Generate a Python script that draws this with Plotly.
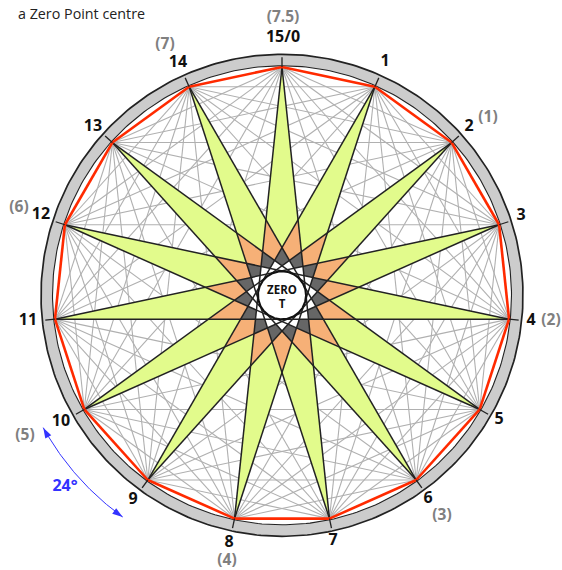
import numpy as np
import plotly.graph_objects as go

N = 15
vertex_numbers = list(range(N))
R = 228.3
ring_outer = 241.0
ring_inner = 229.5
tick_end = 238.0
centre_r = 24.0
kite_radii = {"yellow": [228.3, 77.2, 47.7], "orange": [77.2, 47.7, 35.7], "gray": [47.7, 35.7, 29.5]}
kite_colors = {"yellow": "#e2fb8c", "orange": "#f6b077", "gray": "#666666"}
chord_steps = [2, 3, 4, 5, 6]

title_text = "a Zero Point centre"
main_labels = ["15/0", "1", "2", "3", "4", "5", "6", "7", "8", "9", "10", "11", "12", "13", "14"]
main_x = [1, 103, 187, 239, 249, 217, 146, 51, -53, -149, -221, -254, -241, -189, -104]
main_y = [257, 233, 168, 79, -26, -125, -204, -246, -248, -205, -127, -26, 80, 168, 232]
half_labels = ["(7.5)", "(1)", "(2)", "(3)", "(4)", "(5)", "(6)", "(7)"]
half_x = [1, 206, 269, 160, -55, -257, -263, -117]
half_y = [277, 177, -26, -221, -266, -141, 87, 250]
arc_deg = [215.7, 241.0]
arc_r = 273.0
arc_label = "24°"
arc_label_xy = (-217, -192)


def pol(angle_deg, r):
    a = np.radians(angle_deg)
    return r * np.sin(a), r * np.cos(a)


def vert(i, r=R):
    return pol(i * 360 / N, r)


def circle(r):
    t = np.linspace(0, 360, 361)
    return pol(t, r)


fig = go.Figure()


def line(x, y, color, width, fill=None, fillcolor=None):
    fig.add_trace(go.Scatter(x=x, y=y, mode="lines", line=dict(color=color, width=width),
                             fill=fill, fillcolor=fillcolor, hoverinfo="skip", showlegend=False))


def chords(step):
    xs, ys = [], []
    for i in vertex_numbers:
        a, b = vert(i), vert(i + step)
        xs += [a[0], b[0], None]
        ys += [a[1], b[1], None]
    return xs, ys


# ring
x, y = circle(ring_outer)
line(x, y, "#222222", 1.7, "toself", "#cccccc")
x, y = circle(ring_inner)
line(x, y, "#222222", 1.1, "toself", "#ffffff")

# light chords
for s in chord_steps:
    x, y = chords(s)
    line(x, y, "#b0b0b0", 1.1)

# kites
for name, (r0, r1, r2) in kite_radii.items():
    xs, ys = [], []
    off = 0 if name != "orange" else 12
    for i in vertex_numbers:
        a = i * 24 + off
        pts = [pol(a, r0), pol(a + 12, r1), pol(a, r2), pol(a - 12, r1), pol(a, r0)]
        xs += [p[0] for p in pts] + [None]
        ys += [p[1] for p in pts] + [None]
    fig.add_trace(go.Scatter(x=xs, y=ys, mode="none", fill="toself", fillcolor=kite_colors[name],
                             hoverinfo="skip", showlegend=False))

# black star
x, y = chords(7)
line(x, y, "#222222", 1.5)

# red polygon
x, y = chords(1)
line(x, y, "#ff2a00", 2.6)

# ticks
xs, ys = [], []
for i in vertex_numbers:
    a, b = vert(i), vert(i, tick_end)
    xs += [a[0], b[0], None]
    ys += [a[1], b[1], None]
line(xs, ys, "#222222", 1.3)

# centre
x, y = circle(centre_r)
line(x, y, "#111111", 2, "toself", "#ffffff")
fig.add_trace(go.Scatter(x=[0, 0], y=[4.3, -9.7], mode="text", text=["ZERO", "T"],
                         textfont=dict(family="Open Sans", size=11.5, color="#111111", weight=700),
                         hoverinfo="skip", showlegend=False))

# labels
fig.add_trace(go.Scatter(x=main_x, y=main_y, mode="text", text=main_labels,
                         textfont=dict(family="Open Sans", size=16, color="#111111", weight=700),
                         hoverinfo="skip", showlegend=False))
fig.add_trace(go.Scatter(x=half_x, y=half_y, mode="text", text=half_labels,
                         textfont=dict(family="Open Sans", size=15.5, color="#808080", weight=700),
                         hoverinfo="skip", showlegend=False))

# blue arc
t = np.linspace(arc_deg[0], arc_deg[1], 60)
ax, ay = pol(t, arc_r)
line(ax, ay, "#3333ff", 1)
fig.add_trace(go.Scatter(x=[ax[0], ax[-1]], y=[ay[0], ay[-1]], mode="markers",
                         marker=dict(symbol="arrow", size=11, color="#3333ff",
                                     angle=[arc_deg[0] + 90 + 180, arc_deg[1] + 90], line=dict(width=0)),
                         hoverinfo="skip", showlegend=False))
fig.add_trace(go.Scatter(x=[arc_label_xy[0]], y=[arc_label_xy[1]], mode="text", text=[arc_label],
                         textfont=dict(family="Open Sans", size=16, color="#3333ff", weight=700),
                         hoverinfo="skip", showlegend=False))

fig.add_annotation(x=-266, y=282, xanchor="left", yanchor="middle", text=title_text, showarrow=False,
                   font=dict(family="Open Sans", size=14.3, color="#222222"))

fig.update_layout(width=562, height=570, margin=dict(l=0, r=0, t=0, b=0),
                  paper_bgcolor="white", plot_bgcolor="white", showlegend=False,
                  xaxis=dict(range=[-282, 280], visible=False, fixedrange=True),
                  yaxis=dict(range=[-274.7, 295.3], visible=False, fixedrange=True))
fig.write_html("out.html", config=dict(displayModeBar=False),
               post_script="document.body.style.margin='0';document.body.style.overflow='hidden';")
